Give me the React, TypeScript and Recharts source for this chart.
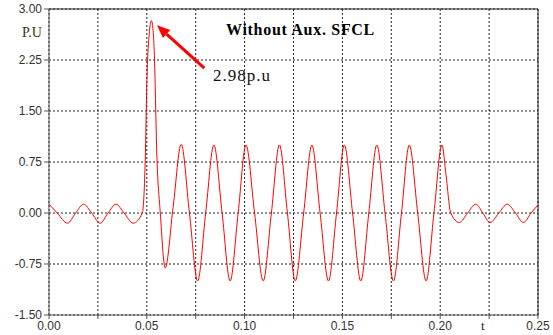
import {
  LineChart, Line, XAxis, YAxis, CartesianGrid, ReferenceLine, Customized
} from "recharts";

// Tiempo (s) y valor (p.u)
const tiempo = [
  0.0, 0.0042, 0.0095, 0.0136, 0.0177, 0.0218, 0.0262, 0.0302, 0.0342, 0.0384, 0.043, 0.0477,
  0.0492, 0.05, 0.051, 0.0524, 0.0537, 0.0552, 0.0569, 0.0594, 0.0635,
  0.0676, 0.0718, 0.076, 0.0801, 0.0843, 0.0885, 0.0926, 0.0967, 0.1007, 0.1051,
  0.1095, 0.1137, 0.1178, 0.1219, 0.1259, 0.1302, 0.1344, 0.1386, 0.1429, 0.147,
  0.151, 0.1552, 0.1594, 0.1635, 0.1676, 0.1718, 0.1761, 0.1802, 0.1842, 0.1885,
  0.1928, 0.1968, 0.2009, 0.203, 0.2054, 0.2098, 0.214, 0.2182, 0.2218, 0.2255,
  0.23, 0.2343, 0.2385, 0.2425, 0.2465, 0.25
];
const valor = [
  0.13, 0.0, -0.15, 0.0, 0.13, 0.0, -0.15, 0.0, 0.13, 0.0, -0.15, 0.0,
  0.77, 1.9, 2.55, 2.83, 2.45, 0.8, 0.0, -0.81, 0.1,
  1.01, 0.0, -1.0, 0.0, 1.0, 0.0, -1.0, 0.0, 1.0, 0.0,
  -1.0, 0.0, 1.0, 0.0, -1.0, 0.0, 1.0, 0.0, -1.0, 0.0,
  1.0, 0.0, -1.0, 0.0, 1.0, 0.0, -1.0, 0.0, 1.0, 0.0,
  -1.0, 0.0, 1.0, 0.55, 0.0, -0.14, 0.0, 0.13, 0.0, -0.14,
  0.0, 0.13, 0.0, -0.14, 0.0, 0.12
];

const ticksX = [0, 0.025, 0.05, 0.075, 0.1, 0.125, 0.15, 0.175, 0.2, 0.225, 0.25];
const etiquetasX = ["0.00", "", "0.05", "", "0.10", "", "0.15", "", "0.20", "", "0.25"];
const ticksY = [-1.5, -0.75, 0, 0.75, 1.5, 2.25, 3];
const etiquetasY = ["-1.50", "-0.75", "0.00", "0.75", "1.50", "2.25", "3.00"];

// Flecha del pico
const picoFlecha = [{ x: 0.0552, y: 2.76 }, { x: 0.0794, y: 2.13 }];

const Flecha = (props: any) => {
  const { x1, y1, x2, y2 } = props;
  const ang = Math.atan2(y1 - y2, x1 - x2);
  const largo = 13;
  const medio = 5.5;
  const bx = x1 - largo * Math.cos(ang);
  const by = y1 - largo * Math.sin(ang);
  const px = -Math.sin(ang) * medio;
  const py = Math.cos(ang) * medio;
  return (
    <g>
      <line x1={bx} y1={by} x2={x2} y2={y2} stroke="#ff0000" strokeWidth={3} />
      <polygon
        points={`${x1},${y1} ${bx + px},${by + py} ${bx - px},${by - py}`}
        fill="#ff0000"
      />
    </g>
  );
};

const Textos = () => (
  <g>
    <text x={22} y={37} fontFamily="Liberation Serif" fontSize={14} fill="#333311">P.U</text>
    <text x={226} y={35} fontFamily="Liberation Serif" fontWeight="bold" fontSize={16}
      letterSpacing={0.7} fill="#000">Without Aux. SFCL</text>
    <text x={213} y={81} fontFamily="Liberation Serif" fontSize={17}
      letterSpacing={1} fill="#111">2.98p.u</text>
    <text x={481} y={330} fontFamily="Liberation Serif" fontSize={13} fill="#223">t</text>
  </g>
);

export default function App() {
  const datos = tiempo.map((t, i) => ({ t, v: valor[i] }));

  return (
    <div style={{ position: "absolute", left: 0, top: 0, background: "#fff" }}>
      <LineChart
        width={553}
        height={335}
        data={datos}
        margin={{ top: 8, right: 14, bottom: 0, left: 0 }}
      >
        <CartesianGrid stroke="#222" strokeDasharray="2 2" />

        <XAxis
          dataKey="t"
          type="number"
          domain={[0, 0.25]}
          ticks={ticksX}
          interval={0}
          height={20}
          tickSize={4}
          tickMargin={2}
          tickFormatter={(v: number) => etiquetasX[ticksX.indexOf(v)] ?? ""}
          tick={{ fontSize: 12, fill: "#333", fontFamily: "Liberation Sans" }}
          stroke="#555"
        />
        <YAxis
          type="number"
          domain={[-1.5, 3]}
          ticks={ticksY}
          interval={0}
          width={49}
          tickSize={5}
          tickMargin={2}
          tickFormatter={(v: number) => etiquetasY[ticksY.indexOf(v)] ?? ""}
          tick={{ fontSize: 12, fill: "#333", fontFamily: "Liberation Sans" }}
          stroke="#555"
        />

        {/* Marco superior y derecho */}
        <XAxis xAxisId="arriba" orientation="top" type="number" domain={[0, 1]}
          height={1} tick={false} tickLine={false} stroke="#222" />
        <YAxis yAxisId="der" orientation="right" type="number" domain={[0, 1]}
          width={1} tick={false} tickLine={false} stroke="#222" />

        <Line
          type="monotone"
          dataKey="v"
          stroke="#ff0000"
          strokeWidth={1}
          dot={false}
          isAnimationActive={false}
        />

        <ReferenceLine segment={picoFlecha} shape={Flecha} />

        <Customized component={Textos} />
      </LineChart>
    </div>
  );
}
